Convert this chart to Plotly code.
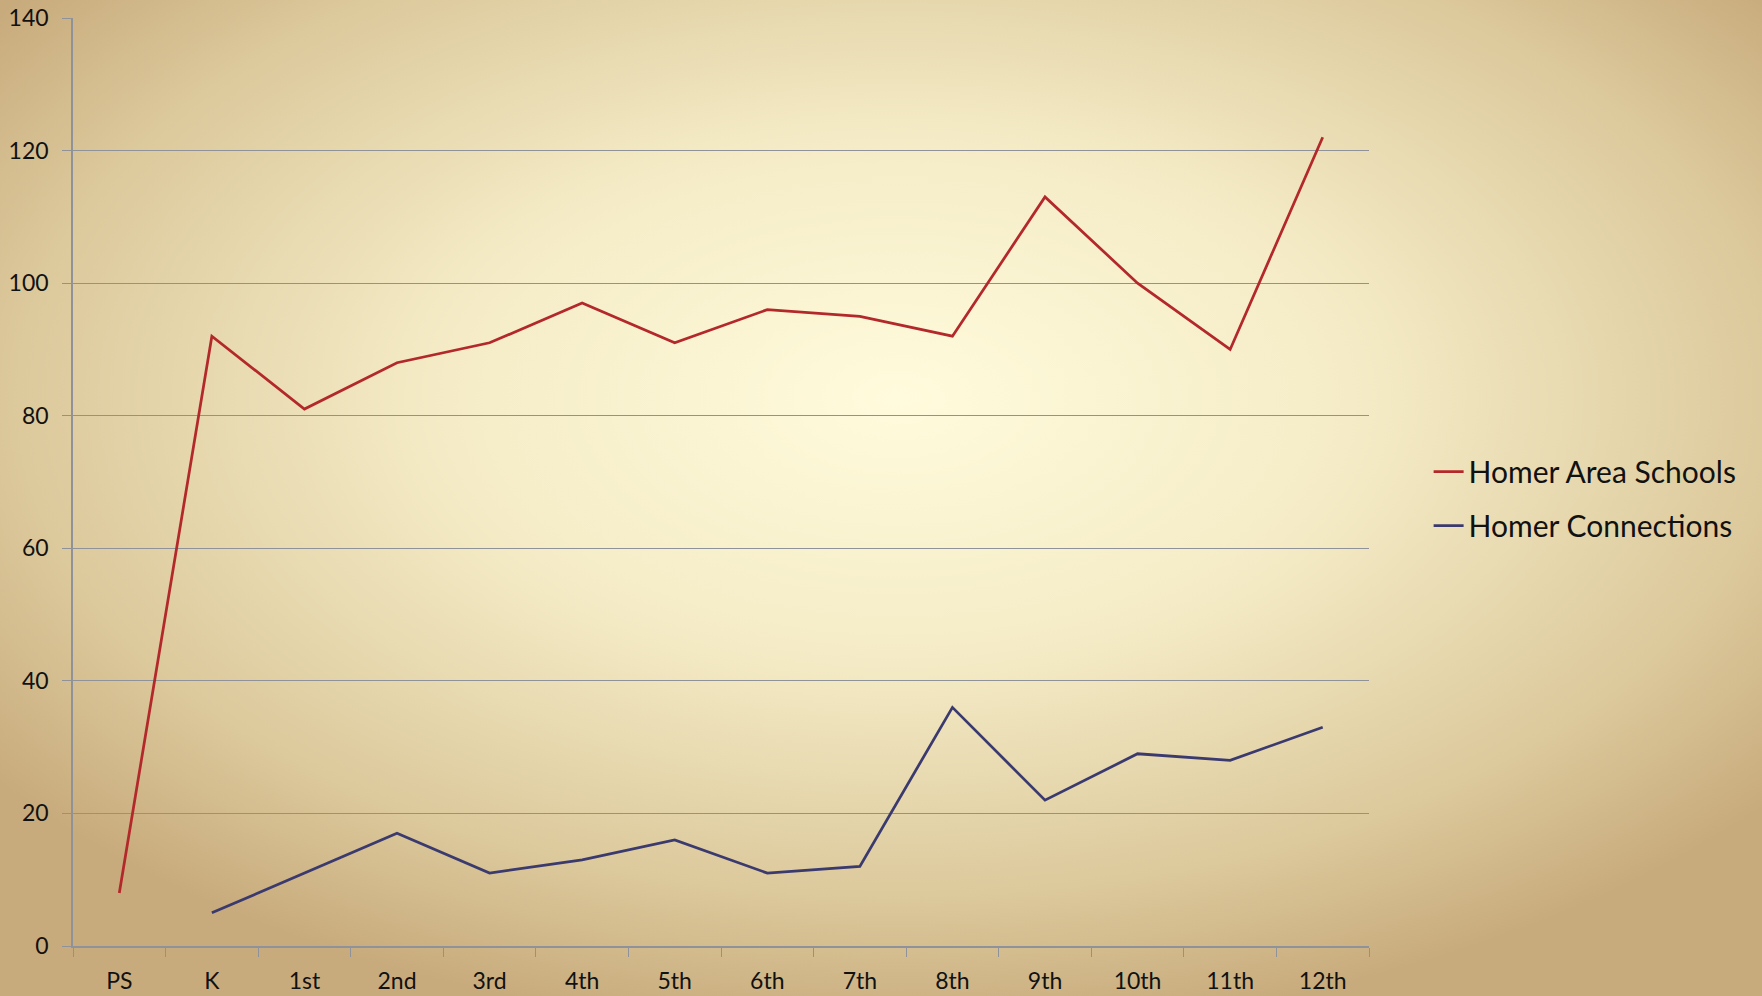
import plotly.graph_objects as go
import base64

grades = ["PS", "K", "1st", "2nd", "3rd", "4th", "5th", "6th", "7th", "8th", "9th", "10th", "11th", "12th"]
homer_area_schools = [8, 92, 81, 88, 91, 97, 91, 96, 95, 92, 113, 100, 90, 122]
homer_connections = [None, 5, 11, 17, 11, 13, 16, 11, 12, 36, 22, 29, 28, 33]
y_ticks = [0, 20, 40, 60, 80, 100, 120, 140]

W, H = 1762, 996

svg = f'''<svg xmlns="http://www.w3.org/2000/svg" width="{W}" height="{H}" viewBox="0 0 {W} {H}">
<defs><radialGradient id="g" cx="0.51" cy="0.4" r="0.64" fx="0.51" fy="0.4">
<stop offset="0" stop-color="#fffbdc"/>
<stop offset="0.4" stop-color="#f5ecc7"/>
<stop offset="0.78" stop-color="#dcc99c"/>
<stop offset="1" stop-color="#c8ab7c"/>
</radialGradient></defs>
<rect width="{W}" height="{H}" fill="url(#g)"/></svg>'''
bg = "data:image/svg+xml;base64," + base64.b64encode(svg.encode()).decode()

fig = go.Figure()
fig.add_trace(go.Scatter(x=grades, y=homer_area_schools, mode="lines", name="Homer Area Schools",
                         line=dict(color="#b3282a", width=2.75), legendgroup="a"))
fig.add_trace(go.Scatter(x=grades, y=homer_connections, mode="lines", name="Homer Connections",
                         line=dict(color="#3b3a6e", width=2.75), legendgroup="b"))

fig.update_layout(
    width=W, height=H,
    margin=dict(l=73, r=393, t=18, b=50, autoexpand=False),
    paper_bgcolor="#d9c596",
    plot_bgcolor="rgba(0,0,0,0)",
    font=dict(family="Lato, Open Sans, sans-serif", color="#111111", size=23),
    images=[dict(source=bg, xref="paper", yref="paper", x=-73/1296, y=1 + 18/928,
                 sizex=W/1296, sizey=H/928, xanchor="left", yanchor="top",
                 sizing="stretch", layer="below")],
    showlegend=True,
    legend=dict(x=1.046, y=0.482, xanchor="left", yanchor="middle",
                font=dict(size=30, color="#111111"), bgcolor="rgba(0,0,0,0)",
                traceorder="grouped", tracegroupgap=12),
    xaxis=dict(type="category", range=[-0.5, 13.5], tickson="boundaries",
               ticks="outside", ticklen=9, tickcolor="#8f9399", tickwidth=1,
               showline=True, linecolor="#8f9399", linewidth=1.5, automargin=False,
               showgrid=False, tickfont=dict(size=23), ticklabelstandoff=14),
    yaxis=dict(range=[0, 140], tickvals=y_ticks, ticks="outside", ticklen=9,
               tickcolor="#8f9399", showline=True, linecolor="#8f9399", linewidth=1.5,
               showgrid=True, gridcolor="#8f9399", gridwidth=1, zeroline=False, automargin=False,
               tickfont=dict(size=23), ticklabelstandoff=9),
)

fig.write_html("out.html", config={"displayModeBar": False},
               post_script="document.body.style.margin='0';document.body.style.overflow='hidden';")
